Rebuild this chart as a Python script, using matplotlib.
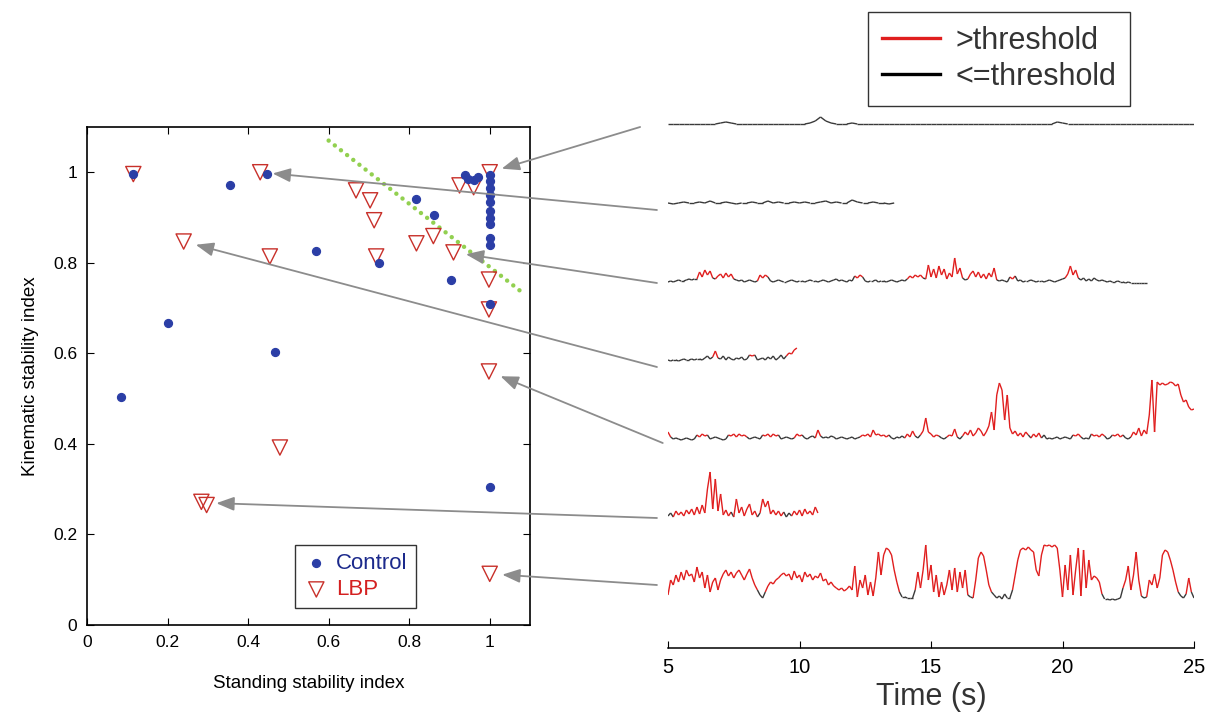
import numpy as np
import matplotlib
matplotlib.use('Agg')
import matplotlib.pyplot as plt
from matplotlib.collections import LineCollection
from matplotlib.lines import Line2D

plt.rcParams['font.family'] = ['Liberation Sans', 'DejaVu Sans']

# ---- scatter data (standing index, kinematic index) ----
control_x = [0.115, 0.354, 0.446, 0.202, 0.466, 0.569, 0.726, 0.085, 1.0,
             0.816, 0.861, 0.905, 1.0, 0.938, 0.947, 0.97, 0.96,
             1.0, 1.0, 1.0, 1.0, 1.0, 1.0, 1.0, 1.0, 1.0, 1.0]
control_y = [0.996, 0.971, 0.996, 0.666, 0.602, 0.825, 0.80, 0.504, 0.305,
             0.94, 0.905, 0.763, 0.708, 0.995, 0.985, 0.99, 0.982,
             0.995, 0.98, 0.965, 0.95, 0.935, 0.915, 0.90, 0.885, 0.855, 0.84]

lbp_x = [0.115, 0.43, 0.24, 0.454, 0.668, 0.703, 0.713, 0.718, 0.818, 0.86,
         0.91, 0.925, 0.96, 1.0, 0.998, 0.998, 0.998, 0.479, 0.284, 0.297, 1.0]
lbp_y = [0.996, 1.0, 0.847, 0.814, 0.96, 0.938, 0.894, 0.814, 0.843, 0.859,
         0.823, 0.971, 0.967, 1.0, 0.763, 0.697, 0.56, 0.392, 0.272, 0.265, 0.113]

trend_x = [0.6, 1.08]
trend_y = [1.07, 0.735]

# ---- example traces (amplitude, px above baseline) ----
trace1 = [0, 0, 0, 0, 0, 0, 0, 0, 0, 0,
          1, 2, 1, 0, 0, 0, 0, 0, 0, 0,
          0, 0, 0, 0, 0, 0, 0, 1, 3, 7,
          3, 1, 0, 0, 0, 1, 0, 0, 0, 0,
          0, 0, 0, 0, 0, 0, 0, 0, 0, 0,
          0, 0, 0, 0, 0, 0, 0, 0, 0, 0,
          0, 0, 0, 0, 0, 0, 0, 0, 0, 0,
          0, 0, 0, 0, 2, 1, 0, 0, 0, 0,
          0, 0, 0, 0, 0, 0, 0, 0, 0, 0,
          0, 0, 0, 0, 0, 0, 0, 0, 0, 0, 0]
trace2 = [1, 0, 1, 2, 1, 1, 2, 1, 3, 1, 1, 2, 1, 0, 1, 1, 2, 1, 1, 3, 1, 2,
          1, 1, 2, 1, 2, 1, 1, 2, 3, 1, 2, 1, 1, 4, 2, 1, 1, 2, 1, 1, 0, 1]
trace3 = [1, 2, 1, 2, 3, 2, 2, 3,
          4, 3, 4, 4,
          11, 6, 13, 8, 12, 5,
          4, 7,
          9, 5, 10, 6, 9, 4,
          3, 2, 3, 1, 2, 3, 2, 1, 2,
          8, 5, 8, 6,
          2, 1, 2, 3, 2, 1, 1, 2, 3, 2, 1, 2, 2, 1, 2, 3, 2, 2, 1, 2, 3, 2,
          1, 2, 3, 4, 2, 3, 2, 1, 3, 2,
          7, 5, 8, 6,
          2, 1, 2, 2, 3, 1, 2, 2, 1, 2, 3, 2, 1, 2, 3, 2, 4,
          7, 5, 8, 6, 8, 5,
          4, 18, 6, 14, 5, 17, 8, 14, 4, 10, 6, 25, 9, 15, 5, 3, 4, 9, 12, 6,
          11, 5, 9, 4, 10, 6, 15, 3,
          2, 3, 2, 1,
          6, 4, 7,
          2, 3, 1, 2, 2, 3, 2, 1, 2, 2, 1, 2, 3, 2, 1, 2, 3, 4, 5,
          9, 17, 8, 13, 5,
          3, 5, 2, 4, 2, 5, 3, 2, 3,
          2, 1, 2, 1, 1, 2, 1, 1, 0, 1, 0, 0, 0, 0, 0, 0, 0]
trace4 = [1, 0, 1, 1, 0, 1, 2, 1, 1, 2,
          1, 2, 2, 1, 3, 5, 2, 4, 10, 3,
          2, 5, 1, 4, 2, 1, 3, 2, 4, 1,
          2, 6, 5, 6, 1, 2, 3, 1, 4, 2,
          5, 1, 3, 6, 2, 5, 8, 7, 11, 13]
trace5 = [8, 3, 1, 2, 1, 0, 1, 2, 1, 0,
          1, 5, 3, 6, 4, 5, 1, 2, 3, 2,
          1, 0, 1, 5, 4, 6, 3, 6, 4, 5,
          3, 1, 2, 3, 2, 1, 5, 4, 6, 3,
          6, 4, 5, 1, 2, 3, 2, 1, 2, 6,
          4, 5, 2, 1, 3, 4, 2, 10, 4, 2,
          3, 2, 4, 3, 1, 2, 3, 2, 1, 2,
          3, 1, 2, 3, 5, 4, 6, 3, 10, 5,
          6, 4, 5, 3, 5, 2, 1, 3, 2, 4,
          2, 6, 3, 9, 4, 2, 5, 9, 22, 8,
          6, 3, 5, 4, 2, 1, 3, 5, 4, 11,
          3, 1, 4, 8, 5, 10, 4, 7, 12, 9,
          4, 8, 14, 28, 10, 45, 57, 50, 20, 45,
          12, 6, 9, 4, 7, 3, 8, 5, 2, 6,
          3, 7, 2, 5, 1, 2, 1, 2, 3, 1,
          2, 3, 2, 1, 5, 4, 6, 3, 1, 2,
          1, 6, 4, 5, 3, 6, 4, 1, 2, 5,
          4, 6, 3, 5, 2, 1, 3, 8, 5, 12,
          4, 10, 6, 25, 60, 8, 58, 55, 57, 55,
          56, 58, 57, 54, 56, 45, 38, 40, 33, 30, 31]
trace6 = [3, 6, 2, 8, 4, 7, 3, 9, 5, 10,
          4, 12, 5, 14, 6, 30, 47, 10, 40, 8,
          25, 4, 9, 3, 7, 2, 20, 6, 12, 3,
          10, 15, 4, 8, 2, 6, 20, 12, 18, 5,
          9, 4, 8, 3, 7, 2, 6, 3, 8, 4,
          9, 3, 10, 5, 8, 4, 12, 6]
trace7 = [5, 20, 15, 25, 18, 28, 20, 30, 24, 26,
          18, 33, 22, 28, 12, 25, 8, 18, 22, 10,
          20, 26, 30, 24, 28, 22, 27, 30, 25, 20,
          26, 31, 22, 15, 10, 5, 2, 8, 14, 18,
          16, 20, 22, 25, 27, 24, 26, 20, 29, 22,
          25, 18, 28, 23, 26, 20, 24, 22, 27, 19,
          21, 15, 18, 14, 12, 10, 12, 9, 11, 14,
          10, 34, 3, 20, 12, 25, 5, 18, 4, 22,
          48, 25, 45, 52, 50, 45, 30, 18, 8, 3,
          3, 2, 2, 2, 10, 28, 12, 30, 55, 20,
          35, 8, 25, 3, 18, 5, 15, 30, 10, 32,
          8, 28, 12, 30, 5, 3, 2, 20, 42, 48,
          44, 30, 15, 8, 5, 2, 4, 1, 6, 2,
          2, 10, 25, 40, 50, 52, 50, 53, 50, 48,
          30, 24, 45, 55, 54, 55, 53, 55, 52, 30,
          3, 35, 10, 45, 5, 30, 52, 4, 50, 12,
          40, 20, 24, 22, 18, 6, 1, 1, 0, 1,
          0, 1, 2, 12, 20, 34, 10, 25, 48, 20,
          4, 2, 3, 20, 15, 26, 12, 22, 45, 50,
          48, 40, 30, 18, 8, 4, 2, 6, 22, 8, 2]

# (values, time step, baseline, threshold)
traces = [(trace1, 0.2, 524, 5), (trace2, 0.2, 444, 10), (trace3, 0.1, 365, 4.5),
          (trace4, 0.1, 287, 4.5), (trace5, 0.1, 208, 3.5), (trace6, 0.1, 129, 4.5),
          (trace7, 0.1, 48, 9)]

# arrows: tail on trace panel (t, y), head on scatter point
arrow_tails = [(3.94, 521), (4.58, 438), (4.58, 365), (4.58, 281), (4.8, 205),
               (4.58, 130), (4.58, 63)]
arrow_heads = [(1.0, 1.0), (0.43, 1.0), (0.91, 0.823), (0.24, 0.847), (0.998, 0.56),
               (0.29, 0.27), (1.0, 0.113)]

red = '#e01e1e'
dark = '#3a3a3a'

fig = plt.figure(figsize=(12.1, 7.15), dpi=100)

# ---- left: scatter ----
ax1 = fig.add_axes([87 / 1210, 90 / 715, 443 / 1210, 498 / 715])
ax1.plot(trend_x, trend_y, color='#92d050', lw=3.2, linestyle=(0, (0.01, 1.75)),
         dash_capstyle='round', zorder=2)
ax1.scatter(lbp_x, lbp_y, s=120, marker='v', facecolor='none', edgecolor='#c8302a',
            linewidth=1.0, zorder=3, label='LBP')
ax1.scatter(control_x, control_y, s=32, color='#2b3ea6', zorder=4, label='Control')
ax1.set_xlim(0, 1.1)
ax1.set_ylim(0, 1.1)
ax1.set_xticks([0, 0.2, 0.4, 0.6, 0.8, 1])
ax1.set_xticklabels(['0', '0.2', '0.4', '0.6', '0.8', '1'])
ax1.set_yticks([0, 0.2, 0.4, 0.6, 0.8, 1])
ax1.set_yticklabels(['0', '0.2', '0.4', '0.6', '0.8', '1'])
ax1.tick_params(direction='in', top=True, right=True, length=5, labelsize=12.5, pad=7)
ax1.set_xlabel('Standing stability index', fontsize=13.5, labelpad=18)
ax1.set_ylabel('Kinematic stability index', fontsize=13.5, labelpad=10)
for sp in ax1.spines.values():
    sp.set_linewidth(1.2)
h, l = ax1.get_legend_handles_labels()
leg1 = ax1.legend(h[::-1], l[::-1], loc='lower left', bbox_to_anchor=(0.47, 0.034),
                  fontsize=16, frameon=True, fancybox=False, edgecolor='black',
                  handletextpad=0.3, borderpad=0.35, labelspacing=0.25,
                  handlelength=1.2, borderaxespad=0)
leg1.get_frame().set_linewidth(1.0)
leg1.get_texts()[0].set_color('#1c2a8c')
leg1.get_texts()[1].set_color('#d42020')

# ---- right: traces ----
ax2 = fig.add_axes([668 / 1210, 67 / 715, 526 / 1210, 548 / 715])
ax2.patch.set_visible(False)
for vals, dt, base, thr in traces:
    v = np.array(vals, dtype=float)
    t = 5 + dt * np.arange(len(v))
    pts = np.column_stack([t, base + v])
    segs = np.stack([pts[:-1], pts[1:]], axis=1)
    hot = (v[:-1] + v[1:]) / 2 > thr
    cols = [red if h else dark for h in hot]
    ax2.add_collection(LineCollection(segs, colors=cols, linewidths=1.0))
ax2.set_xlim(5, 25)
ax2.set_ylim(0, 548)
for s in ['top', 'left', 'right']:
    ax2.spines[s].set_visible(False)
ax2.spines['bottom'].set_linewidth(1.1)
ax2.set_yticks([])
ax2.set_xticks([5, 10, 15, 20, 25])
ax2.tick_params(axis='x', direction='in', length=5, labelsize=14.5, pad=7)
ax2.set_xlabel('Time (s)', fontsize=22, color='#333333', labelpad=4)

# arrows from traces to their points
for (tt, ty), (hx, hy) in zip(arrow_tails, arrow_heads):
    ax1.annotate('', xy=(hx, hy), xycoords='data', xytext=(tt, ty),
                 textcoords=ax2.transData, annotation_clip=False,
                 arrowprops=dict(arrowstyle='-|>,head_length=0.9,head_width=0.35',
                                 color='#8c8c8c', lw=1.3, shrinkA=0, shrinkB=9,
                                 mutation_scale=12), zorder=6)

# threshold legend
handles = [Line2D([], [], color=red, lw=2.4), Line2D([], [], color='black', lw=2.4)]
leg2 = fig.legend(handles, ['>threshold', '<=threshold'], loc='upper left',
                  bbox_to_anchor=(868 / 1210, 1 - 12 / 715), fontsize=22,
                  frameon=True, fancybox=False, edgecolor='black', handlelength=1.9,
                  handletextpad=0.5, borderpad=0.45, labelspacing=0.2, borderaxespad=0)
leg2.get_frame().set_linewidth(1.0)
for tx in leg2.get_texts():
    tx.set_color('#333333')

fig.savefig('out.png', dpi=100)
